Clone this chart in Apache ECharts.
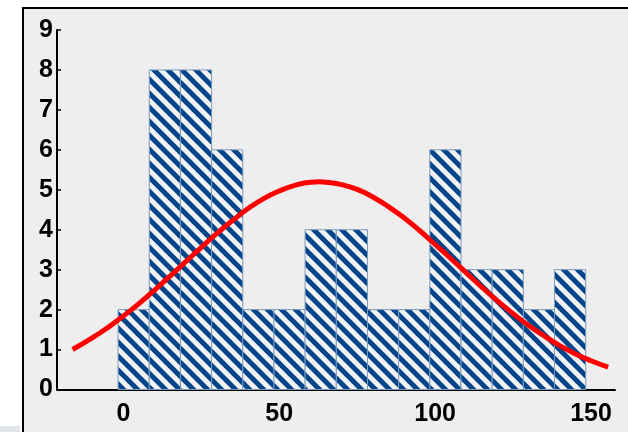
<!DOCTYPE html>
<html>
<head>
<meta charset="utf-8">
<script src="https://cdn.jsdelivr.net/npm/echarts@6/dist/echarts.min.js"></script>
<style>
  html, body { margin: 0; padding: 0; background: #ffffff; }
  #chart { width: 628px; height: 432px; }
</style>
</head>
<body>
<div id="chart"></div>
<script>
// ---- data ----
const binLefts = [-1.7, 8.3, 18.3, 28.3, 38.3, 48.3, 58.3, 68.3, 78.3, 88.3, 98.3, 108.3, 118.3, 128.3, 138.3];
const binWidth = 10;
const counts = [2, 8, 8, 6, 2, 2, 4, 4, 2, 2, 6, 3, 3, 2, 3];
const curveX = [-16.3, -10, -5, 0, 5, 10, 15, 20, 25, 30, 35, 40, 45, 50, 55, 60, 63, 65, 70, 75, 80, 85, 90, 95, 100, 105, 110, 115, 120, 125, 130, 135, 140, 145, 150, 155.5];
const curveY = [1.0, 1.29, 1.55, 1.84, 2.15, 2.49, 2.84, 3.2, 3.56, 3.91, 4.23, 4.53, 4.78, 4.97, 5.11, 5.19, 5.2, 5.19, 5.13, 5.01, 4.82, 4.58, 4.3, 3.98, 3.63, 3.28, 2.92, 2.56, 2.22, 1.9, 1.6, 1.34, 1.1, 0.89, 0.72, 0.56];
const xTickLabels = [0, 50, 100, 150];

// ---- stripe pattern ----
function makeStripes() {
  const s = 14;
  const c = document.createElement('canvas');
  c.width = s; c.height = s;
  const g = c.getContext('2d');
  g.fillStyle = '#f2f2f2';
  g.fillRect(0, 0, s, s);
  g.strokeStyle = '#03458a';
  g.lineWidth = 5;
  for (let k = -1; k <= 1; k++) {
    g.beginPath();
    g.moveTo(-s, -s + k * s);
    g.lineTo(2 * s, 2 * s + k * s);
    g.stroke();
  }
  return c;
}
const stripe = makeStripes();

const barData = binLefts.map((l, i) => [l, l + binWidth, counts[i]]);
const curveData = curveX.map((x, i) => [x, curveY[i]]);

const chart = echarts.init(document.getElementById('chart'), null, { renderer: 'canvas' });
const font = '"Liberation Sans", Arial, sans-serif';
chart.setOption({
  animation: false,
  backgroundColor: '#ffffff',
  graphic: [
    { type: 'rect', z: -100, shape: { x: 23, y: 8, width: 700, height: 500 },
      style: { fill: '#eeeeee', stroke: '#000000', lineWidth: 2 } },
    { type: 'rect', z: -100, shape: { x: 0, y: 426, width: 20, height: 6 },
      style: { fill: '#dfe5ea' } }
  ],
  grid: { left: 57, right: 13, top: 30, bottom: 42.5, containLabel: false },
  xAxis: {
    type: 'value', min: -21.3, max: 157.7,
    axisLine: { show: true, onZero: false, lineStyle: { color: '#000', width: 2 } },
    axisTick: { show: false },
    splitLine: { show: false },
    axisLabel: {
      customValues: xTickLabels,
      margin: 12, color: '#000', fontSize: 25, fontWeight: 'bold', fontFamily: font
    }
  },
  yAxis: {
    type: 'value', min: 0, max: 9, interval: 1,
    axisLine: { show: true, onZero: false, lineStyle: { color: '#000', width: 2 } },
    axisTick: { show: true, inside: true, length: 4, lineStyle: { color: '#000', width: 1.5 } },
    splitLine: { show: false },
    axisLabel: { margin: 4, color: '#000', fontSize: 25, fontWeight: 'bold', fontFamily: font }
  },
  series: [
    {
      type: 'custom',
      data: barData,
      encode: { x: [0, 1], y: 2 },
      renderItem: function (params, api) {
        const p0 = api.coord([api.value(0), api.value(2)]);
        const p1 = api.coord([api.value(1), 0]);
        return {
          type: 'rect',
          shape: { x: p0[0], y: p0[1], width: p1[0] - p0[0], height: p1[1] - p0[1] },
          style: { fill: { image: stripe, repeat: 'repeat' }, stroke: '#7d9bbd', lineWidth: 1 }
        };
      },
      z: 2
    },
    {
      type: 'line',
      data: curveData,
      smooth: true,
      showSymbol: false,
      symbol: 'none',
      lineStyle: { color: '#ff0000', width: 5 },
      z: 5
    }
  ]
});
</script>
</body>
</html>
